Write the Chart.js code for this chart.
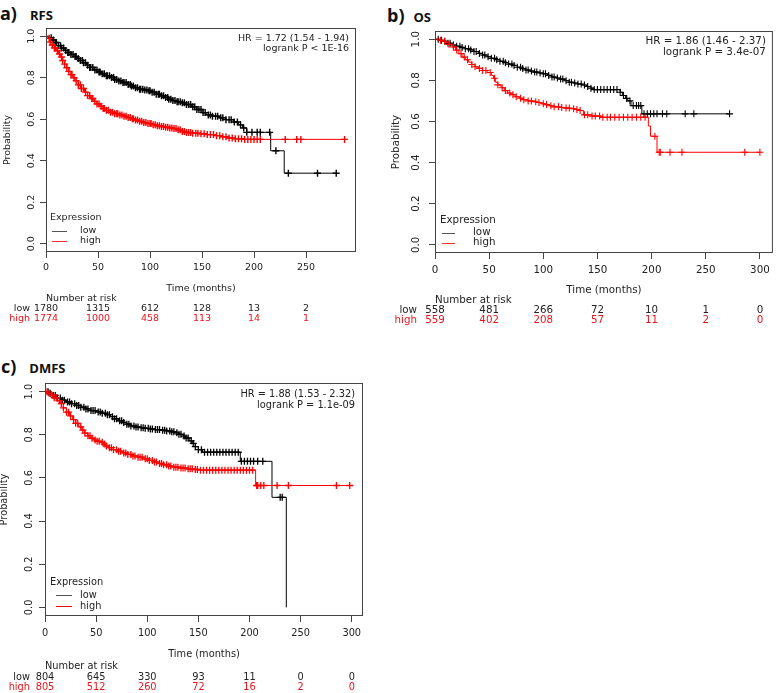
<!DOCTYPE html>
<html>
<head>
<meta charset="utf-8">
<title>Kaplan-Meier RFS / OS / DMFS</title>
<script src="https://cdn.jsdelivr.net/npm/chart.js@4.4.1/dist/chart.umd.min.js"></script>
<style>
  html, body { margin: 0; padding: 0; background: #fff; }
  #page { position: relative; width: 778px; height: 693px; overflow: hidden; }
  canvas { position: absolute; }
  .ttl { position: absolute; font-family: "Open Sans", sans-serif; font-weight: 700; color: #111; white-space: nowrap; line-height: 1; }
  .ttl .lt { font-size: 18px; }
  .ttl .nm { font-size: 13px; margin-left: 13px; }
</style>
</head>
<body>
<div id="page">
  <div class="ttl" style="left:0;top:4px"><span class="lt">a)</span><span class="nm">RFS</span></div>
  <div class="ttl" style="left:387px;top:6px"><span class="lt">b)</span><span class="nm" style="margin-left:9px">OS</span></div>
  <div class="ttl" style="left:1px;top:357px"><span class="lt">c)</span><span class="nm">DMFS</span></div>
  <canvas id="chartA" width="380" height="330" style="left:0;top:0"></canvas>
  <canvas id="chartB" width="398" height="330" style="left:380px;top:0"></canvas>
  <canvas id="chartC" width="380" height="353" style="left:0;top:340px"></canvas>
</div>
<script>
// ticks
const xTicksA = [0, 50, 100, 150, 200, 250];
const xTicksBC = [0, 50, 100, 150, 200, 250, 300];
const yTicks = [0, 0.2, 0.4, 0.6, 0.8, 1.0];
const yTickLabels = ['0.0', '0.2', '0.4', '0.6', '0.8', '1.0'];
const groupLabels = ['low', 'high'];

// a) RFS - curvas [meses, probabilidade]
const rfsLow = [[0,1],[3,0.993],[6,0.982],[9,0.97],[12,0.955],[15,0.943],[18,0.932],[21,0.922],[24,0.912],[27,0.902],[30,0.893],[33,0.883],[36,0.872],[39,0.861],[42,0.85],[46,0.838],[50,0.828],[54,0.819],[58,0.81],[62,0.801],[66,0.792],[70,0.785],[74,0.777],[78,0.768],[82,0.76],[86,0.752],[90,0.745],[94,0.741],[98,0.737],[102,0.73],[106,0.721],[110,0.713],[114,0.705],[118,0.697],[122,0.69],[126,0.685],[130,0.679],[135,0.671],[140,0.66],[145,0.647],[150,0.632],[154,0.621],[160,0.615],[167,0.607],[173,0.598],[180,0.587],[185,0.573],[189,0.558],[193,0.537],[216,0.448],[229,0.34],[279,0.34]];
const rfsHigh = [[0,1],[2,0.99],[4,0.972],[6,0.958],[8,0.944],[10,0.93],[12,0.915],[14,0.9],[16,0.883],[18,0.866],[20,0.848],[22,0.831],[24,0.815],[26,0.8],[28,0.786],[31,0.766],[34,0.748],[37,0.731],[40,0.714],[43,0.7],[46,0.686],[49,0.674],[52,0.663],[55,0.652],[58,0.643],[62,0.634],[66,0.627],[70,0.621],[74,0.615],[78,0.608],[82,0.602],[86,0.596],[90,0.59],[94,0.584],[98,0.579],[102,0.574],[106,0.569],[110,0.565],[114,0.562],[118,0.558],[122,0.555],[126,0.549],[130,0.541],[134,0.536],[140,0.533],[147,0.53],[155,0.526],[162,0.521],[168,0.516],[174,0.51],[182,0.506],[190,0.503],[287,0.503]];
const rfsLowCens = [5,7,9,10,12,14,15,17,19,21,22,24,26,28,29,31,33,35,36,38,40,42,43,45,47,49,51,52,54,56,58,59,61,63,65,66,68,70,72,74,75,77,79,81,82,84,86,88,90,91,93,95,97,99,100,102,104,106,108,109,111,113,115,117,118,120,122,124,126,127,129,131,133,135,137,139,141,143,145,147,149,151,153,156,158,160,163,165,168,170,173,176,178,181,184,187,190,193,198,203,206,215,221,233,261,279];
const rfsHighCens = [3,4,6,8,9,11,13,15,16,18,20,22,24,25,27,29,31,33,34,36,38,40,42,44,45,47,49,51,53,55,56,58,60,62,64,66,68,69,71,73,75,77,79,81,83,84,86,88,90,92,94,96,98,100,101,103,105,107,109,111,113,115,117,119,121,123,125,127,129,131,133,135,137,139,141,144,146,149,152,155,158,161,164,167,170,173,176,179,182,185,188,191,194,197,200,203,206,230,241,245,287];
const rfsRiskLow = [1780, 1315, 612, 128, 13, 2];
const rfsRiskHigh = [1774, 1000, 458, 113, 14, 1];
const rfsStats = ['HR = 1.72 (1.54 - 1.94)', 'logrank P < 1E-16'];

// b) OS
const osLow = [[0,1],[4,0.995],[8,0.99],[12,0.98],[16,0.972],[20,0.966],[24,0.96],[28,0.954],[32,0.948],[36,0.94],[40,0.931],[44,0.923],[48,0.915],[52,0.907],[56,0.9],[60,0.893],[64,0.886],[68,0.879],[72,0.872],[76,0.864],[80,0.857],[84,0.85],[88,0.845],[92,0.84],[96,0.836],[100,0.832],[104,0.824],[108,0.816],[112,0.811],[116,0.806],[120,0.798],[124,0.791],[128,0.787],[132,0.782],[136,0.777],[140,0.77],[144,0.762],[147,0.755],[171,0.742],[173,0.726],[176,0.712],[178,0.7],[181,0.677],[191,0.637],[272,0.637]];
const osHigh = [[0,1],[4,0.995],[7,0.99],[10,0.985],[13,0.975],[16,0.962],[19,0.947],[22,0.93],[25,0.913],[28,0.9],[31,0.888],[34,0.877],[37,0.866],[40,0.858],[44,0.848],[48,0.838],[52,0.824],[54,0.81],[56,0.79],[58,0.778],[61,0.764],[64,0.75],[67,0.738],[70,0.73],[74,0.72],[78,0.713],[82,0.706],[86,0.7],[90,0.696],[94,0.692],[98,0.686],[102,0.682],[106,0.676],[110,0.671],[115,0.668],[120,0.665],[125,0.662],[130,0.658],[134,0.653],[137,0.632],[145,0.626],[153,0.62],[197,0.578],[199,0.528],[205,0.45],[300,0.45]];
const osLowCens = [3,6,9,12,14,17,20,23,25,28,31,33,36,38,41,44,46,49,52,55,57,60,63,65,68,71,73,76,79,81,84,86,89,92,94,97,100,102,105,108,110,113,116,118,121,124,126,129,132,135,138,141,144,147,150,153,156,159,162,165,168,171,174,177,180,183,186,188,190,193,196,199,202,205,210,214,231,239,272];
const osHighCens = [5,9,13,17,20,24,27,30,34,37,41,44,47,51,55,58,62,65,69,72,75,79,82,86,89,93,96,100,103,107,110,114,117,121,124,128,131,134,138,141,145,148,152,155,159,162,166,170,174,178,182,186,190,194,203,207,208,217,228,286,300];
const osRiskLow = [558, 481, 266, 72, 10, 1, 0];
const osRiskHigh = [559, 402, 208, 57, 11, 2, 0];
const osStats = ['HR = 1.86 (1.46 - 2.37)', 'logrank P = 3.4e-07'];

// c) DMFS
const dmfsLow = [[0,1],[4,0.992],[8,0.982],[12,0.97],[16,0.96],[20,0.952],[25,0.944],[30,0.936],[35,0.928],[40,0.92],[45,0.912],[50,0.906],[55,0.9],[60,0.893],[64,0.884],[68,0.874],[72,0.865],[76,0.857],[80,0.849],[84,0.841],[88,0.836],[93,0.833],[98,0.83],[103,0.827],[108,0.824],[113,0.821],[118,0.818],[123,0.814],[127,0.809],[131,0.802],[135,0.794],[138,0.785],[141,0.772],[144,0.76],[147,0.745],[150,0.731],[154,0.719],[191,0.677],[222,0.51],[236,0]];
const dmfsHigh = [[0,1],[3,0.992],[6,0.983],[9,0.972],[12,0.958],[15,0.945],[18,0.925],[21,0.905],[24,0.888],[27,0.87],[30,0.853],[33,0.837],[36,0.822],[39,0.808],[42,0.795],[45,0.784],[48,0.776],[51,0.77],[54,0.765],[57,0.757],[60,0.748],[63,0.74],[67,0.731],[71,0.724],[76,0.716],[81,0.709],[86,0.702],[91,0.696],[96,0.689],[101,0.681],[106,0.674],[111,0.667],[116,0.661],[121,0.655],[126,0.65],[132,0.646],[138,0.642],[145,0.639],[152,0.636],[206,0.565],[301,0.565]];
const dmfsLowCens = [3,5,8,10,12,15,17,19,22,24,26,29,31,33,35,38,40,42,45,47,49,52,54,56,59,61,63,66,68,70,73,75,77,80,82,84,87,89,91,94,96,98,101,103,105,108,110,112,115,117,119,122,124,126,129,131,133,136,138,140,143,145,147,150,153,156,159,162,165,168,171,174,177,180,183,186,189,192,195,198,201,204,208,213,230,232];
const dmfsHighCens = [2,4,7,9,11,14,16,18,21,23,25,28,30,32,35,37,39,42,44,46,49,51,53,56,58,60,63,65,67,70,72,74,77,79,81,84,86,88,91,93,95,98,100,102,105,107,109,112,114,116,119,121,123,126,128,130,133,135,137,140,142,144,147,149,152,155,158,161,164,167,170,173,176,179,182,185,188,191,194,197,200,203,207,208,211,214,227,238,285,298];
const dmfsRiskLow = [804, 645, 330, 93, 11, 0, 0];
const dmfsRiskHigh = [805, 512, 260, 72, 16, 2, 0];
const dmfsStats = ['HR = 1.88 (1.53 - 2.32)', 'logrank P = 1.1e-09'];

// cores e fontes
const corLow = '#000000';
const corHigh = '#ff0000';
const corTexto = '#222222';
const corTextoHigh = '#e8141c';
const corEixo = '#444444';
const fonte = '"DejaVu Sans", sans-serif';
const xAxisH = 30;

// posição de cada painel (área do gráfico em pixels do canvas)
const paineis = [
  { id: 'chartA', low: rfsLow, high: rfsHigh, censLow: rfsLowCens, censHigh: rfsHighCens,
    xTicks: xTicksA, riskLow: rfsRiskLow, riskHigh: rfsRiskHigh, stats: rfsStats, xMax: 298,
    w: 380, h: 330, area: { left: 46, top: 28, right: 356, bottom: 252 }, fs: 9.5,
    cruzR: 3.5, cruzW: 1.4, legCores: ['#555555', '#ff3030'],
    lay: { yLab: -14, yTitle: -38, xTitle: 37, riskTitle: 47, riskLow: 57, riskHigh: 67, riskLabel: -16,
           hrRight: -7, hr1: 11, hr2: 21, exprX: 4, exprY: -34, lineX1: 6, lineX2: 21, legX: 34, legLow: -21, legHigh: -11, tickPad: 4 } },
  { id: 'chartB', low: osLow, high: osHigh, censLow: osLowCens, censHigh: osHighCens,
    xTicks: xTicksBC, riskLow: osRiskLow, riskHigh: osRiskHigh, stats: osStats, xMax: 312,
    w: 398, h: 330, area: { left: 55, top: 31, right: 397, bottom: 253 }, fs: 10.3,
    cruzR: 3.5, cruzW: 1.1, legCores: ['#555555', '#ff3030'],
    lay: { yLab: -19, yTitle: -39, xTitle: 37, riskTitle: 47, riskLow: 57, riskHigh: 67.5, riskLabel: -18,
           hrRight: -7, hr1: 10.5, hr2: 21, exprX: 5, exprY: -33, lineX1: 7, lineX2: 20, legX: 38, legLow: -20.5, legHigh: -10.5, tickPad: 5 } },
  { id: 'chartC', low: dmfsLow, high: dmfsHigh, censLow: dmfsLowCens, censHigh: dmfsHighCens,
    xTicks: xTicksBC, riskLow: dmfsRiskLow, riskHigh: dmfsRiskHigh, stats: dmfsStats, xMax: 311,
    w: 380, h: 353, area: { left: 45, top: 43, right: 363, bottom: 276 }, fs: 9.8,
    cruzR: 3.5, cruzW: 1.3, legCores: ['#555555', '#ff0000'],
    lay: { yLab: -16, yTitle: -41, xTitle: 38.5, riskTitle: 50, riskLow: 61, riskHigh: 71.5, riskLabel: -15,
           hrRight: -8, hr1: 11, hr2: 22, exprX: 5, exprY: -34, lineX1: 11, lineX2: 27, legX: 35, legLow: -21, legHigh: -10, tickPad: 6 } }
];

// valor da curva de Kaplan-Meier no tempo t (função degrau)
function survAt(curve, t) {
  let s = curve[0][1];
  for (const [ct, cs] of curve) {
    if (ct <= t) s = cs; else break;
  }
  return s;
}

function pontos(curve) {
  return curve.map(([t, s]) => ({ x: t, y: s }));
}

function censuras(curve, tempos) {
  return tempos.map(t => ({ x: t, y: survAt(curve, t) }));
}

// desenha caixa, rótulos, legenda e tabela de risco
function criarDecor(p) {
  return {
    id: 'kmDecor',
    afterDraw(chart) {
      const { ctx, chartArea: a, scales: { x, y } } = chart;
      const L = p.lay;
      ctx.save();

      ctx.strokeStyle = corEixo;
      ctx.lineWidth = 1;
      ctx.strokeRect(a.left + 0.5, a.top + 0.5, a.right - a.left - 1, a.bottom - a.top - 1);

      ctx.font = p.fs + 'px ' + fonte;
      ctx.fillStyle = corTexto;
      ctx.textBaseline = 'middle';

      // rótulos do eixo y (rotacionados)
      yTicks.forEach((v, i) => {
        ctx.save();
        ctx.translate(a.left + L.yLab, y.getPixelForValue(v));
        ctx.rotate(-Math.PI / 2);
        ctx.textAlign = 'center';
        ctx.fillText(yTickLabels[i], 0, 0);
        ctx.restore();
      });

      ctx.save();
      ctx.translate(a.left + L.yTitle, (a.top + a.bottom) / 2);
      ctx.rotate(-Math.PI / 2);
      ctx.textAlign = 'center';
      ctx.fillText('Probability', 0, 0);
      ctx.restore();

      ctx.textAlign = 'center';
      ctx.fillText('Time (months)', (a.left + a.right) / 2, a.bottom + L.xTitle);

      // HR
      ctx.textAlign = 'right';
      ctx.fillText(p.stats[0], a.right + L.hrRight, a.top + L.hr1);
      ctx.fillText(p.stats[1], a.right + L.hrRight, a.top + L.hr2);

      // legenda
      ctx.textAlign = 'left';
      ctx.fillText('Expression', a.left + L.exprX, a.bottom + L.exprY);
      [L.legLow, L.legHigh].forEach((dy, i) => {
        const ly = Math.round(a.bottom + dy) + 0.5;
        ctx.strokeStyle = p.legCores[i];
        ctx.lineWidth = 1;
        ctx.beginPath();
        ctx.moveTo(a.left + L.lineX1, ly);
        ctx.lineTo(a.left + L.lineX2, ly);
        ctx.stroke();
        ctx.fillStyle = corTexto;
        ctx.fillText(groupLabels[i], a.left + L.legX, a.bottom + dy);
      });

      // tabela de número em risco
      const x0 = x.getPixelForValue(0);
      ctx.fillStyle = corTexto;
      ctx.textAlign = 'left';
      ctx.fillText('Number at risk', x0, a.bottom + L.riskTitle);
      ctx.textAlign = 'right';
      ctx.fillText(groupLabels[0], x0 + L.riskLabel, a.bottom + L.riskLow);
      ctx.fillStyle = corTextoHigh;
      ctx.fillText(groupLabels[1], x0 + L.riskLabel, a.bottom + L.riskHigh);
      ctx.textAlign = 'center';
      p.xTicks.forEach((t, i) => {
        const px = x.getPixelForValue(t);
        ctx.fillStyle = corTexto;
        ctx.fillText(String(p.riskLow[i]), px, a.bottom + L.riskLow);
        ctx.fillStyle = corTextoHigh;
        ctx.fillText(String(p.riskHigh[i]), px, a.bottom + L.riskHigh);
      });
      ctx.restore();
    }
  };
}

function gerarPainel(p) {
  const ctx = document.getElementById(p.id).getContext('2d');
  const linha = (data, cor) => ({
    type: 'line', data, stepped: true, borderColor: cor, borderWidth: 1,
    pointRadius: 0, fill: false, tension: 0
  });
  const cruz = (data, cor) => ({
    type: 'scatter', data, showLine: false, pointStyle: 'cross', pointRadius: p.cruzR,
    borderColor: cor, backgroundColor: cor, borderWidth: p.cruzW
  });
  return new Chart(ctx, {
    type: 'line',
    data: {
      datasets: [
        cruz(censuras(p.high, p.censHigh), corHigh),
        linha(pontos(p.high), corHigh),
        cruz(censuras(p.low, p.censLow), corLow),
        linha(pontos(p.low), corLow)
      ]
    },
    options: {
      responsive: false,
      animation: false,
      events: [],
      layout: {
        padding: { left: 0, top: p.area.top, right: p.w - p.area.right, bottom: p.h - p.area.bottom - xAxisH }
      },
      plugins: { legend: { display: false }, tooltip: { enabled: false } },
      scales: {
        x: {
          type: 'linear', min: 0, max: p.xMax,
          afterBuildTicks: s => { s.ticks = p.xTicks.map(v => ({ value: v })); },
          afterFit: s => { s.height = xAxisH; },
          ticks: { autoSkip: false, maxRotation: 0, padding: p.lay.tickPad, color: corTexto, font: { family: fonte, size: p.fs } },
          grid: { drawOnChartArea: false, drawTicks: true, tickLength: 6, color: corEixo },
          border: { display: false }
        },
        y: {
          type: 'linear', min: -0.04, max: 1.04,
          afterBuildTicks: s => { s.ticks = yTicks.map(v => ({ value: v })); },
          afterFit: s => { s.width = p.area.left; },
          ticks: { display: false },
          grid: { drawOnChartArea: false, drawTicks: true, tickLength: 6, color: corEixo },
          border: { display: false }
        }
      }
    },
    plugins: [criarDecor(p)]
  });
}

window.onload = () => {
  paineis.forEach(gerarPainel);
};
</script>
</body>
</html>
